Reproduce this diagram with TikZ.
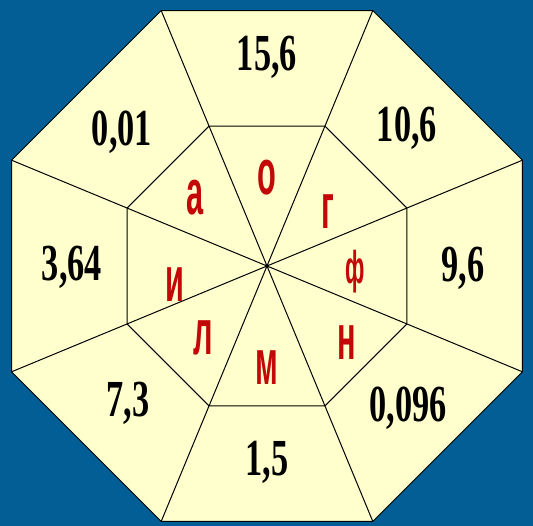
\documentclass[tikz,border=0pt]{standalone}
\usepackage{fontspec}
\newfontfamily\numfont[FakeStretch=0.66]{Liberation Serif}
\newfontfamily\letfont[FakeStretch=0.48]{Liberation Sans}
\usetikzlibrary{calc}
\definecolor{bgblue}{RGB}{4,94,150}
\definecolor{paper}{RGB}{255,255,206}
\definecolor{letred}{RGB}{195,8,8}

\begin{document}
\begin{tikzpicture}[x=1pt,y=1pt,
   num/.style={inner sep=0pt,font=\numfont\bfseries\fontsize{52}{52}\selectfont},
   lett/.style={inner sep=0pt,text=letred,font=\letfont\bfseries\fontsize{#1}{#1}\selectfont},
   edge/.style={draw=black,line width=1pt}]
  \fill[bgblue] (-267,-260) rectangle (266,266);
  \coordinate (c) at (0,0);
  \foreach \i in {1,...,8} {
    \coordinate (o\i) at ({22.5+45*\i}:276.5);
    \coordinate (n\i) at ({22.5+45*\i}:151.5);
  }
  \filldraw[fill=paper,edge] (o1) -- (o2) -- (o3) -- (o4) -- (o5) -- (o6) -- (o7) -- (o8) -- cycle;
  \draw[edge] (n1) -- (n2) -- (n3) -- (n4) -- (n5) -- (n6) -- (n7) -- (n8) -- cycle;
  \foreach \i in {1,...,8} \draw[edge] (c) -- (o\i);
  \fill (c) circle (2);
  \foreach \i/\p/\t in {1/{0,209}/{15,6},2/{140,138}/{10,6},3/{196,-2}/{9,6},4/{141,-142}/{0,096},
      5/{0,-196}/{1,5},6/{-139,-137}/{7,3},7/{-195,-1}/{3,64},8/{-145,134}/{0,01}}
    \node[num] (v\i) at (\p) {\t};
  \foreach \i/\p/\t/\s in {1/{0,88}/о/64,2/{61,54}/г/64,3/{88,-6}/ф/46,4/{80,-77}/н/64,
      5/{0,-102}/м/64,6/{-64,-72}/л/64,7/{-92,-19}/и/64,8/{-72,68}/а/64}
    \node[lett=\s] (l\i) at (\p) {\t};
\end{tikzpicture}
\end{document}
